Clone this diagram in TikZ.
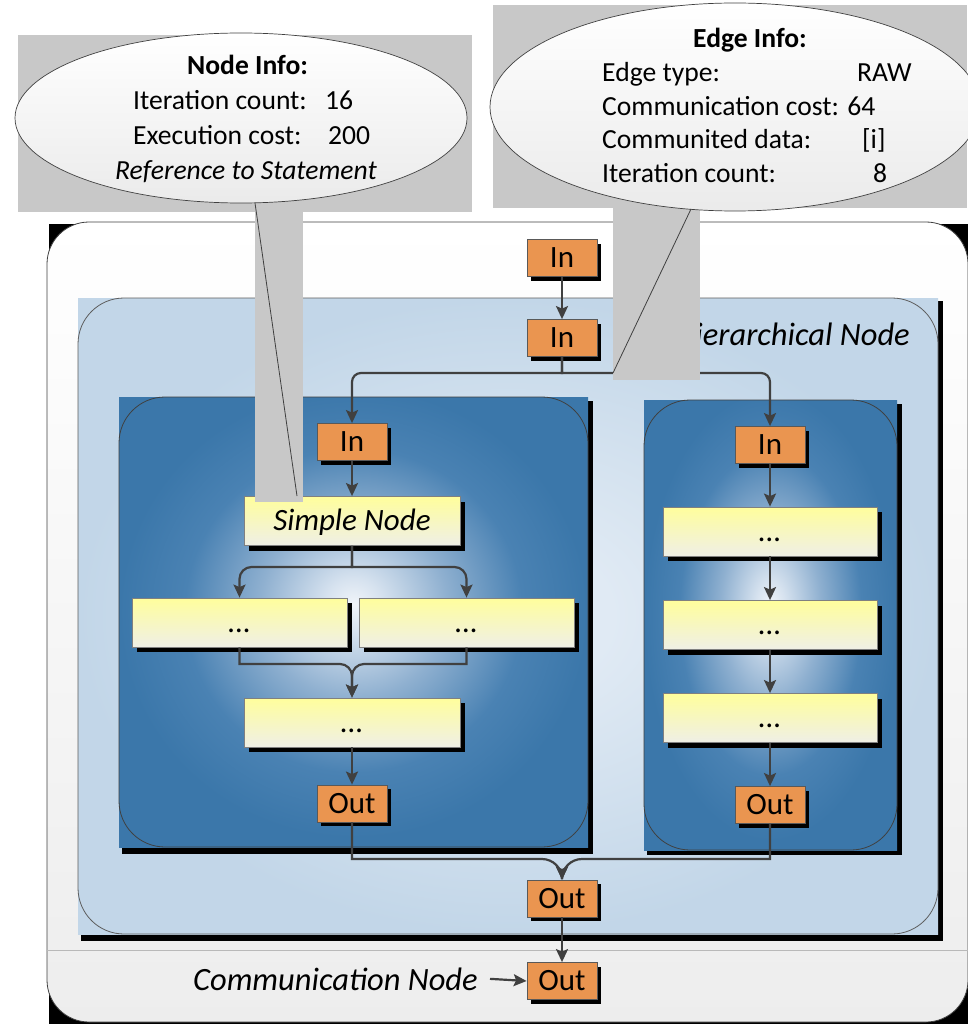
\documentclass[tikz,border=0pt]{standalone}
\usepackage{fontspec}
\setmainfont{Carlito}
\usetikzlibrary{arrows.meta,shadows}
\definecolor{portfill}{HTML}{EA9550}
\definecolor{edgegray}{HTML}{595959}
\definecolor{conncol}{HTML}{404040}
\definecolor{yeltop}{HTML}{FFFE9C}
\definecolor{yelbot}{HTML}{EFEFE6}
\definecolor{hierout}{HTML}{C2D6E8}
\definecolor{hierin}{HTML}{E0EAF4}
\definecolor{compout}{HTML}{3B77AA}
\definecolor{compdeep}{HTML}{4A82B3}
\definecolor{compmid}{HTML}{8FB0D0}
\definecolor{complight}{HTML}{D6E2EF}
\definecolor{compin}{HTML}{F0F4F9}
\definecolor{callgray}{HTML}{C8C8C8}
\pgfdeclareradialshading{compshade}{\pgfpoint{0bp}{2bp}}{color(0bp)=(compin); color(3bp)=(complight); color(10bp)=(compmid); color(18bp)=(compdeep); color(25bp)=(compout); color(50bp)=(compout)}
\pgfdeclareradialshading{hiershade}{\pgfpoint{0bp}{0bp}}{color(0bp)=(hierin); color(6bp)=(hierin); color(25bp)=(hierout); color(50bp)=(hierout)}
\tikzset{
 portbox/.style={draw=edgegray, line width=0.8pt, fill=portfill, minimum width=70pt, minimum height=37pt, inner sep=0pt, text height=20pt, text depth=1pt, font=\fontsize{31}{33}\selectfont, general shadow={fill=black, shadow xshift=4pt, shadow yshift=-4pt}},
 simplebox/.style={draw=gray, line width=0.8pt, top color=yeltop, bottom color=yelbot, minimum width=216pt, minimum height=49pt, inner sep=0pt, text height=20pt, text depth=1pt, font=\fontsize{31}{33}\selectfont\itshape, general shadow={fill=black, shadow xshift=5pt, shadow yshift=-5pt}},
 connline/.style={draw=conncol, line width=2.2pt, -{Stealth[length=13pt,width=12pt,inset=2.5pt]}},
 infotext/.style={anchor=base west, inner sep=0pt, font=\fontsize{27.6}{30}\selectfont},
 labeltext/.style={anchor=base east, inner sep=0pt, font=\fontsize{32.5}{34}\selectfont\itshape},
 callgrayfill/.style={fill=callgray},
 bubblefill/.style={draw=conncol, line width=0.7pt, top color=white, bottom color=black!8},
 pointerline/.style={draw=conncol, line width=0.8pt},
 framefill/.style={draw=conncol, line width=0.8pt},
}
\begin{document}
\begin{tikzpicture}[x=1pt,y=-1pt]
\useasboundingbox (0,0) rectangle (967,1024);
% communication node (outer frame)
\fill[black] (49,224) rectangle (990,1040);
\path[framefill, top color=white, bottom color=black!7, rounded corners=42pt] (47,222) rectangle (968,1022);
\draw[gray!55, line width=0.8pt] (47,950) -- (968,950);
% hierarchical node
\fill[black] (81,301) rectangle (943,941);
\fill[shading=hiershade] (78,298) rectangle (938,934);
\draw[framefill, draw=conncol!85, rounded corners=46pt] (78,298) rectangle (938,934);
\node[labeltext] (hiertxt) at (910,345) {Hierarchical Node};
% composite nodes
\fill[black] (122,401) rectangle (593,854);
\fill[shading=compshade] (119,397) rectangle (588,847);
\draw[framefill, rounded corners=46pt] (119,397) rectangle (588,847);
\fill[black] (647,404) rectangle (902,855);
\fill[shading=compshade] (644,400) rectangle (897,850);
\draw[framefill, rounded corners=46pt] (644,400) rectangle (897,850);
% nodes
\node[portbox] (in1) at (562,258) {In};
\node[portbox] (in2) at (562,338) {In};
\node[portbox] (inL) at (352,442) {In};
\node[portbox] (inR) at (770,445) {In};
\node[simplebox] (snode) at (352,521) {Simple Node};
\node[simplebox, minimum width=215pt] (sL1) at (239.5,622.5) {...};
\node[simplebox, minimum width=215pt] (sL2) at (466.5,622.5) {...};
\node[simplebox] (sL3) at (352,722.5) {...};
\node[simplebox, minimum width=214pt] (sR1) at (770,531.5) {...};
\node[simplebox, minimum width=214pt] (sR2) at (770,625) {...};
\node[simplebox, minimum width=214pt] (sR3) at (770,718) {...};
\node[portbox] (outL) at (352,803.5) {Out};
\node[portbox] (outR) at (770,805) {Out};
\node[portbox] (outH) at (562,898.5) {Out};
\node[portbox] (outC) at (562,981) {Out};
\node[labeltext] (commtxt) at (478,990) {Communication Node};
% connectors
\coordinate (fkA) at (562,373);
\coordinate (fkB) at (352,567);
\coordinate (mgB) at (352,664);
\coordinate (mgC) at (562,859);
\draw[connline] (in1) -- (in2);
\draw[connline] (in2.south) -- (fkA) [rounded corners=9pt] -- (fkA -| inL.north) [rounded corners=20pt] -- (inL.north);
\draw[connline] (in2.south) -- (fkA) [rounded corners=9pt] -- (fkA -| inR.north) [rounded corners=20pt] -- (inR.north);
\draw[connline] (inL) -- (snode);
\draw[connline] (snode.south) -- (fkB) [rounded corners=12pt] -- (fkB -| sL1.north) [rounded corners=12pt] -- (sL1.north);
\draw[connline] (snode.south) -- (fkB) [rounded corners=12pt] -- (fkB -| sL2.north) [rounded corners=12pt] -- (sL2.north);
\draw[connline] (sL1.south) -- (sL1.south |- mgB) [rounded corners=12pt] -- (mgB) [rounded corners=12pt] -- (sL3.north);
\draw[connline] (sL2.south) -- (sL2.south |- mgB) [rounded corners=12pt] -- (mgB) [rounded corners=12pt] -- (sL3.north);
\draw[connline] (sL3) -- (outL);
\draw[connline] (inR) -- (sR1);
\draw[connline] (sR1) -- (sR2);
\draw[connline] (sR2) -- (sR3);
\draw[connline] (sR3) -- (outR);
\draw[connline] (outL.south) -- (outL.south |- mgC) [rounded corners=20pt] -- (mgC) [rounded corners=10pt] -- (outH.north);
\draw[connline] (outR.south) -- (outR.south |- mgC) [rounded corners=20pt] -- (mgC) [rounded corners=10pt] -- (outH.north);
\draw[connline] (outH) -- (outC);
\draw[connline] ([xshift=12pt]commtxt.east) -- (outC.west);
% Node Info callout
\fill[callgrayfill] (18,35) rectangle (472,212);
\fill[callgrayfill] (255,211) rectangle (303,502);
\path[bubblefill] (241,118) ellipse [x radius=226, y radius=85];
\node[infotext, font=\fontsize{27.6}{30}\selectfont\bfseries] (niHead) at (187,75) {Node Info:};
\node[infotext] (niIter) at (133,110) {Iteration count:};
\node[infotext] (niIterV) at (325,110) {16};
\node[infotext] (niExec) at (133,145) {Execution cost:};
\node[infotext] (niExecV) at (328,145) {200};
\node[infotext, font=\fontsize{27.6}{30}\selectfont\itshape] (niRef) at (115,180) {Reference to Statement};
\draw[pointerline] (255,203) -- (297,496);
% Edge Info callout
\fill[callgrayfill] (493,5) rectangle (967,208);
\fill[callgrayfill] (613,207) rectangle (700,380);
\path[bubblefill] (735,107) ellipse [x radius=245, y radius=104];
\node[infotext, font=\fontsize{27.6}{30}\selectfont\bfseries] (eiHead) at (693,48) {Edge Info:};
\node[infotext] (eiType) at (602,82) {Edge type:};
\node[infotext] (eiTypeV) at (857,82) {RAW};
\node[infotext] (eiCost) at (602,116) {Communication cost: 64};
\node[infotext] (eiData) at (602,149) {Communited data:};
\node[infotext] (eiDataV) at (862,149) {[i]};
\node[infotext] (eiIter) at (602,183) {Iteration count:};
\node[infotext] (eiIterV) at (873,183) {8};
\draw[pointerline] (691,209) -- (613,373);
\end{tikzpicture}
\end{document}
